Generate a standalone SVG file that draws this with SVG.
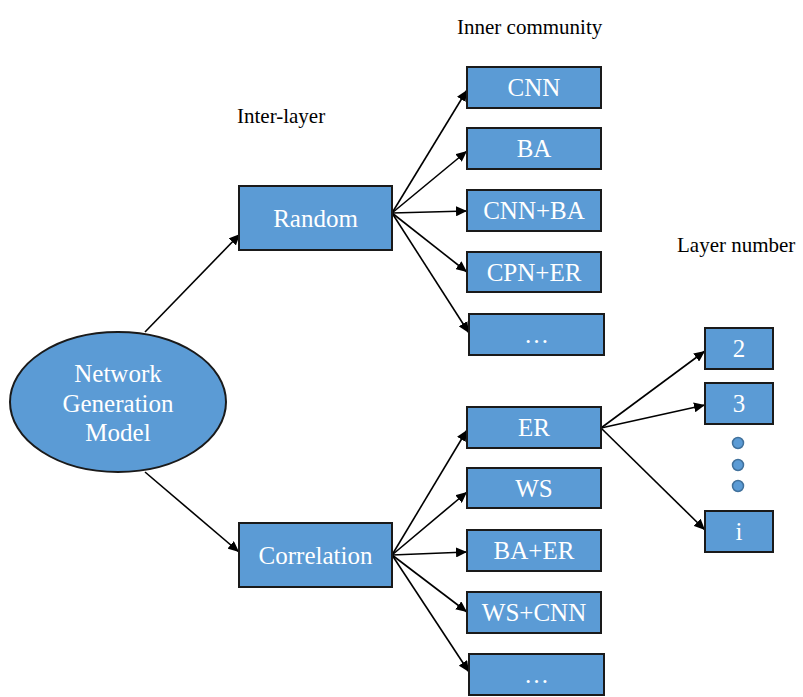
<svg xmlns="http://www.w3.org/2000/svg" width="803" height="697" viewBox="0 0 803 697">
<defs>
<style>
.box{fill:#5B9BD5;stroke:#1a1a1a;stroke-width:2}
.t{font-family:'Liberation Serif','Times New Roman',Tinos,'DejaVu Serif',serif;font-size:25px;fill:#ffffff;text-anchor:middle}
.lbl{font-family:'Liberation Serif','Times New Roman',Tinos,'DejaVu Serif',serif;font-size:21px;fill:#000000}
.c line{stroke:#000;stroke-width:1.6;marker-end:url(#ah)}
.dot{fill:#5B9BD5;stroke:#41719C;stroke-width:1.5}
</style>
<marker id="ah" markerUnits="userSpaceOnUse" markerWidth="12" markerHeight="10" refX="11" refY="5" orient="auto">
<path d="M0,0 L11,5 L0,10 Z" fill="#000"/>
</marker>
</defs>
<rect width="803" height="697" fill="#fff"/>
<text class="lbl" x="457" y="34">Inner community</text>
<text class="lbl" x="237" y="123">Inter-layer</text>
<text class="lbl" x="677" y="252">Layer number</text>
<g class="c" id="connectors">
<line x1="145" y1="332" x2="240" y2="234"/>
<line x1="145" y1="472" x2="239" y2="552"/>
<line x1="392" y1="213" x2="467" y2="90"/>
<line x1="392" y1="213" x2="467" y2="151"/>
<line x1="392" y1="213" x2="467" y2="211"/>
<line x1="392" y1="213" x2="467" y2="272"/>
<line x1="392" y1="213" x2="469" y2="333"/>
<line x1="392" y1="555" x2="467" y2="430"/>
<line x1="392" y1="555" x2="467" y2="492"/>
<line x1="392" y1="555" x2="467" y2="552"/>
<line x1="392" y1="555" x2="467" y2="612"/>
<line x1="392" y1="555" x2="469" y2="672"/>
<line x1="601" y1="428" x2="705" y2="351"/>
<line x1="601" y1="428" x2="705" y2="405"/>
<line x1="601" y1="428" x2="705" y2="530"/>
</g>
<g id="ngm"><ellipse class="box" cx="118" cy="402" rx="108" ry="70"/>
<text class="t" x="118" y="382">Network</text>
<text class="t" x="118" y="412">Generation</text>
<text class="t" x="118" y="441">Model</text></g>
<g id="random"><rect class="box" x="239" y="186" width="153" height="64"/><text class="t" x="315.5" y="227">Random</text></g>
<g id="correlation"><rect class="box" x="239" y="523" width="153" height="64"/><text class="t" x="315.5" y="564">Correlation</text></g>
<g id="cnn"><rect class="box" x="467" y="67" width="134" height="41"/><text class="t" x="534" y="96">CNN</text></g>
<g id="ba"><rect class="box" x="467" y="128" width="134" height="41"/><text class="t" x="534" y="157">BA</text></g>
<g id="cnnba"><rect class="box" x="467" y="190" width="134" height="41"/><text class="t" x="534" y="219">CNN+BA</text></g>
<g id="cpner"><rect class="box" x="467" y="252" width="134" height="40"/><text class="t" x="534" y="281">CPN+ER</text></g>
<g id="more1"><rect class="box" x="469" y="314" width="135" height="41"/><text class="t" x="536.5" y="343">…</text></g>
<g id="er"><rect class="box" x="467" y="407" width="134" height="41"/><text class="t" x="534" y="436">ER</text></g>
<g id="ws"><rect class="box" x="467" y="468" width="134" height="40"/><text class="t" x="534" y="497">WS</text></g>
<g id="baer"><rect class="box" x="467" y="530" width="134" height="41"/><text class="t" x="534" y="559">BA+ER</text></g>
<g id="wscnn"><rect class="box" x="467" y="592" width="134" height="41"/><text class="t" x="534" y="621">WS+CNN</text></g>
<g id="more2"><rect class="box" x="469" y="654" width="135" height="41"/><text class="t" x="536.5" y="683">…</text></g>
<g id="l2"><rect class="box" x="705" y="328" width="68" height="41"/><text class="t" x="739" y="357">2</text></g>
<g id="l3"><rect class="box" x="705" y="383" width="68" height="41"/><text class="t" x="739" y="412">3</text></g>
<g id="dots"><circle class="dot" cx="738" cy="443" r="5.5"/><circle class="dot" cx="738" cy="465" r="5.5"/><circle class="dot" cx="738" cy="486" r="5.5"/></g>
<g id="li"><rect class="box" x="705" y="511" width="68" height="41"/><text class="t" x="739" y="540">i</text></g>
</svg>
